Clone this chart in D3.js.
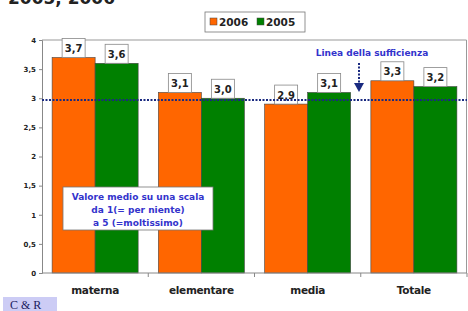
<!DOCTYPE html>
<meta charset="utf-8">
<style>
  body { margin: 0; background: #fff; }
  svg { display: block; }
  .tick text { font-family: 'DejaVu Sans'; font-weight: bold; }
</style>
<body>
<script src="https://cdnjs.cloudflare.com/ajax/libs/d3/7.8.5/d3.min.js"></script>
<script>

// data
var categories = ["materna", "elementare", "media", "Totale"];
var series = ["2006", "2005"];
var values2006 = [3.7, 3.1, 2.9, 3.3];
var values2005 = [3.6, 3.0, 3.1, 3.2];
var yTicks = [0, 0.5, 1, 1.5, 2, 2.5, 3, 3.5, 4];
var sufficienza = 2.97;

var colors = { "2006": "#ff6600", "2005": "#008000" };

var width = 468, height = 311;
var margin = { top: 40, right: 1, bottom: 38, left: 42 };

var svg = d3.select("body").append("svg")
  .attr("width", width)
  .attr("height", height);

// title, cut off at the top of the picture (as in the reference)
svg.append("text")
  .attr("x", 8)
  .attr("y", 3.5)
  .style("font-family", "DejaVu Sans")
  .style("font-weight", "bold")
  .style("font-size", "17px")
  .style("fill", "#222")
  .text("2005, 2006");

var x0 = d3.scaleBand()
  .domain(categories)
  .range([margin.left, width - margin.right])
  .paddingInner(0);

var x1 = d3.scaleBand()
  .domain(series)
  .range([0, x0.bandwidth()])
  .paddingInner(0)
  .paddingOuter(0.235);

var y = d3.scaleLinear()
  .domain([0, 4])
  .range([height - margin.bottom, margin.top]);

// plot frame (top and right)
svg.append("path")
  .attr("d", "M" + margin.left + "," + y(4) + "H" + (width - margin.right - 0.5) + "V" + y(0))
  .attr("fill", "none")
  .attr("stroke", "#999")
  .attr("stroke-width", 1);

// bars
var rows = categories.map(function(c, i) {
  return { cat: c, vals: [ { s: "2006", v: values2006[i] }, { s: "2005", v: values2005[i] } ] };
});

var groups = svg.selectAll(".grp")
  .data(rows)
  .enter().append("g")
  .attr("class", "grp")
  .attr("transform", function(d) { return "translate(" + x0(d.cat) + ",0)"; });

groups.selectAll("rect.bar")
  .data(function(d) { return d.vals; })
  .enter().append("rect")
  .attr("class", "bar")
  .attr("x", function(d) { return x1(d.s); })
  .attr("y", function(d) { return y(d.v); })
  .attr("width", x1.bandwidth())
  .attr("height", function(d) { return y(0) - y(d.v); })
  .attr("fill", function(d) { return colors[d.s]; })
  .attr("stroke", "#444")
  .attr("stroke-width", 0.6);

// value boxes
var lab = groups.selectAll("g.lab")
  .data(function(d) { return d.vals; })
  .enter().append("g")
  .attr("class", "lab")
  .attr("transform", function(d) {
    return "translate(" + (x1(d.s) + x1.bandwidth() / 2) + "," + y(d.v) + ")";
  });

lab.append("rect")
  .attr("x", -11.5)
  .attr("y", -19)
  .attr("width", 23)
  .attr("height", 19)
  .attr("fill", "#fff")
  .attr("stroke", "#888")
  .attr("stroke-width", 0.8);

lab.append("text")
  .attr("y", -5.5)
  .attr("text-anchor", "middle")
  .style("font-family", "DejaVu Sans")
  .style("font-weight", "bold")
  .style("font-size", "10px")
  .style("fill", "#222")
  .text(function(d) { return d3.format(".1f")(d.v).replace(".", ","); });

// y axis
var yAxis = svg.append("g")
  .attr("transform", "translate(" + margin.left + ",0)")
  .call(d3.axisLeft(y).tickValues(yTicks).tickSize(3).tickPadding(3)
    .tickFormat(function(d) { return String(d).replace(".", ","); }));
yAxis.select(".domain").attr("stroke", "#888");
yAxis.selectAll(".tick line").attr("stroke", "#888");
yAxis.selectAll(".tick text").style("font-size", "7px").style("fill", "#222");

// x axis
var xAxis = svg.append("g")
  .attr("transform", "translate(0," + y(0) + ")");
xAxis.append("line")
  .attr("x1", margin.left).attr("x2", width - margin.right)
  .attr("stroke", "#888");
xAxis.selectAll("line.tk")
  .data(categories)
  .enter().append("line")
  .attr("class", "tk")
  .attr("x1", function(d) { return x0(d) + x0.bandwidth(); })
  .attr("x2", function(d) { return x0(d) + x0.bandwidth(); })
  .attr("y1", 0).attr("y2", 4)
  .attr("stroke", "#888");
xAxis.selectAll("text")
  .data(categories)
  .enter().append("text")
  .attr("x", function(d) { return x0(d) + x0.bandwidth() / 2; })
  .attr("y", 21)
  .attr("text-anchor", "middle")
  .style("font-family", "DejaVu Sans")
  .style("font-weight", "bold")
  .style("font-size", "10.5px")
  .style("letter-spacing", "-0.3px")
  .style("fill", "#222")
  .text(function(d) { return d; });

// sufficiency line
svg.append("line")
  .attr("x1", margin.left)
  .attr("x2", width - margin.right)
  .attr("y1", y(sufficienza))
  .attr("y2", y(sufficienza))
  .attr("stroke", "#1a2a80")
  .attr("stroke-width", 2)
  .attr("stroke-dasharray", "2,1.5");

svg.append("text")
  .attr("x", 372)
  .attr("y", 56)
  .attr("text-anchor", "middle")
  .style("font-family", "DejaVu Sans")
  .style("font-weight", "bold")
  .style("font-size", "9px")
  .style("fill", "#3333cc")
  .text("Linea della sufficienza");

// dotted arrow
svg.append("line")
  .attr("x1", 359).attr("x2", 359)
  .attr("y1", 63).attr("y2", 83)
  .attr("stroke", "#1a2a80")
  .attr("stroke-width", 2)
  .attr("stroke-dasharray", "2,1.5");
svg.append("path")
  .attr("d", "M354,83 L364,83 L359,92 Z")
  .attr("fill", "#1a2a80");

// note box
var note = svg.append("g");
note.append("rect")
  .attr("x", 63).attr("y", 187)
  .attr("width", 150).attr("height", 43)
  .attr("fill", "#fff")
  .attr("stroke", "#777")
  .attr("stroke-width", 0.8);
note.selectAll("text")
  .data(["Valore medio su una scala", "da 1(= per niente)", "a 5 (=moltissimo)"])
  .enter().append("text")
  .attr("x", 138)
  .attr("y", function(d, i) { return 200 + i * 13; })
  .attr("text-anchor", "middle")
  .style("font-family", "DejaVu Sans")
  .style("font-weight", "bold")
  .style("font-size", "9px")
  .style("fill", "#3333cc")
  .text(function(d) { return d; });

// legend
var legend = svg.append("g");
legend.append("rect")
  .attr("x", 205).attr("y", 12)
  .attr("width", 100).attr("height", 20)
  .attr("fill", "#fff")
  .attr("stroke", "#777")
  .attr("stroke-width", 0.8);
var li = legend.selectAll("g")
  .data(series)
  .enter().append("g")
  .attr("transform", function(d, i) { return "translate(" + (210 + i * 47) + ",0)"; });
li.append("rect")
  .attr("x", 0).attr("y", 18)
  .attr("width", 7).attr("height", 7)
  .attr("fill", function(d) { return colors[d]; })
  .attr("stroke", "#444")
  .attr("stroke-width", 0.5);
li.append("text")
  .attr("x", 9)
  .attr("y", 26)
  .style("font-family", "DejaVu Sans")
  .style("font-weight", "bold")
  .style("font-size", "10.5px")
  .style("fill", "#222")
  .text(function(d) { return d; });

// C & R tag
svg.append("rect")
  .attr("x", 3).attr("y", 297)
  .attr("width", 54).attr("height", 14)
  .attr("fill", "#ccccf5");
svg.append("text")
  .attr("x", 10)
  .attr("y", 309)
  .style("font-family", "Liberation Serif")
  .style("font-size", "12px")
  .style("fill", "#1a1a60")
  .text("C & R");

</script>
</body>
